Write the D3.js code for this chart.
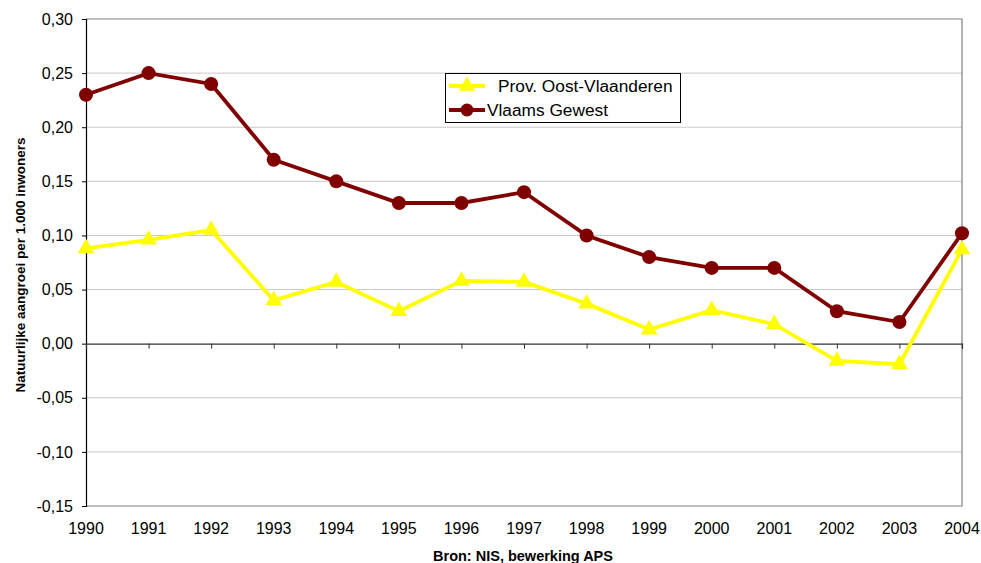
<!DOCTYPE html>
<html>
<head>
<meta charset="utf-8">
<script src="https://cdn.jsdelivr.net/npm/d3@7"></script>
<style>
  body { margin: 0; background: #fff; }
  text { font-family: "Liberation Sans", Arial, sans-serif; }
</style>
</head>
<body>
<script>
// Data
const years = [1990, 1991, 1992, 1993, 1994, 1995, 1996, 1997, 1998, 1999, 2000, 2001, 2002, 2003, 2004];
const oostVlaanderen = [0.088, 0.096, 0.105, 0.040, 0.057, 0.030, 0.058, 0.057, 0.037, 0.013, 0.031, 0.018, -0.016, -0.019, 0.087];
const vlaamsGewest = [0.23, 0.25, 0.24, 0.17, 0.15, 0.13, 0.13, 0.14, 0.10, 0.08, 0.07, 0.07, 0.03, 0.02, 0.102];
const yTicks = [-0.15, -0.10, -0.05, 0, 0.05, 0.10, 0.15, 0.20, 0.25, 0.30];
const seriesNames = ["Prov. Oost-Vlaanderen", "Vlaams Gewest"];

const W = 981, H = 563;
const margin = { top: 19, right: 19, bottom: 57, left: 86 };
const width = W - margin.left - margin.right;
const height = H - margin.top - margin.bottom;

const fmt = v => d3.format(".2f")(v).replace(".", ",").replace("−", "-");

const svg = d3.select("body").append("svg")
    .attr("width", W)
    .attr("height", H);

const g = svg.append("g")
    .attr("transform", `translate(${margin.left},${margin.top})`);

const x = d3.scaleLinear().domain([1990, 2004]).range([0, width]);
const y = d3.scaleLinear().domain([-0.15, 0.30]).range([height, 0]);

// gridlines
g.selectAll(".grid")
    .data(yTicks.filter(t => t !== 0 && t !== -0.15 && t !== 0.30))
    .enter().append("line")
    .attr("x1", 0).attr("x2", width)
    .attr("y1", d => y(d)).attr("y2", d => y(d))
    .attr("stroke", "#c8c8c8").attr("stroke-width", 1);

// frame top / right / bottom
g.append("path")
    .attr("d", `M0,${y(0.30)}H${width}V${y(-0.15)}H0`)
    .attr("fill", "none").attr("stroke", "#808080").attr("stroke-width", 1.2);

// y axis
const yAxis = d3.axisLeft(y).tickValues(yTicks).tickSize(4).tickFormat(fmt);
g.append("g").call(yAxis)
    .call(a => a.select(".domain").attr("stroke", "#000").attr("stroke-width", 1.2))
    .call(a => a.selectAll("text")
        .attr("x", -13)
        .attr("font-size", 16).attr("fill", "#000")
        .style("font-family", "Liberation Sans, Arial, sans-serif"));

// zero axis with ticks
const xAxis = d3.axisBottom(x).tickValues(years).tickSize(5).tickFormat("");
g.append("g").attr("transform", `translate(0,${y(0)})`).call(xAxis)
    .call(a => a.select(".domain").attr("stroke", "#333").attr("stroke-width", 1.2))
    .call(a => a.selectAll(".tick line").attr("stroke", "#333"));

// year labels at bottom
g.selectAll(".year")
    .data(years)
    .enter().append("text")
    .attr("x", d => x(d))
    .attr("y", height + 28)
    .attr("text-anchor", "middle")
    .attr("font-size", 16)
    .text(d => d);

// lines
const line = d3.line().x((d, i) => x(years[i])).y(d => y(d));

g.append("path").datum(oostVlaanderen)
    .attr("d", line).attr("fill", "none")
    .attr("stroke", "#ffff00").attr("stroke-width", 3.8);

g.append("path").datum(vlaamsGewest)
    .attr("d", line).attr("fill", "none")
    .attr("stroke", "#800000").attr("stroke-width", 3.8);

const tri = d3.symbol().type(d3.symbolTriangle).size(120);

g.selectAll(".tri")
    .data(oostVlaanderen)
    .enter().append("path")
    .attr("d", tri)
    .attr("transform", (d, i) => `translate(${x(years[i])},${y(d)})`)
    .attr("fill", "#ffff00");

g.selectAll(".dot")
    .data(vlaamsGewest)
    .enter().append("circle")
    .attr("cx", (d, i) => x(years[i]))
    .attr("cy", d => y(d))
    .attr("r", 7)
    .attr("fill", "#800000");

// legend
const legend = svg.append("g");
legend.append("rect")
    .attr("x", 445.5).attr("y", 73.5)
    .attr("width", 235).attr("height", 49)
    .attr("fill", "#fff").attr("stroke", "#000").attr("stroke-width", 1);

const legendItems = [
    { name: seriesNames[0], color: "#ffff00", y: 86, tx: 498, shape: "tri" },
    { name: seriesNames[1], color: "#800000", y: 110, tx: 487, shape: "dot" }
];
legendItems.forEach(item => {
    legend.append("line")
        .attr("x1", 449).attr("x2", 485)
        .attr("y1", item.y).attr("y2", item.y)
        .attr("stroke", item.color).attr("stroke-width", 3.8);
    if (item.shape === "tri") {
        legend.append("path").attr("d", tri)
            .attr("transform", `translate(467,${item.y})`)
            .attr("fill", item.color);
    } else {
        legend.append("circle").attr("cx", 467).attr("cy", item.y).attr("r", 6.5)
            .attr("fill", item.color);
    }
    legend.append("text")
        .attr("x", item.tx).attr("y", item.y + 6)
        .attr("font-size", 17.3)
        .text(item.name);
});

// axis titles
svg.append("text")
    .attr("transform", `translate(25,265) rotate(-90)`)
    .attr("text-anchor", "middle")
    .attr("font-size", 13.5)
    .attr("font-weight", "bold")
    .text("Natuurlijke aangroei per 1.000 inwoners");

svg.append("text")
    .attr("x", 523)
    .attr("y", 561)
    .attr("text-anchor", "middle")
    .attr("font-size", 14.5)
    .attr("font-weight", "bold")
    .text("Bron: NIS, bewerking APS");
</script>
</body>
</html>
